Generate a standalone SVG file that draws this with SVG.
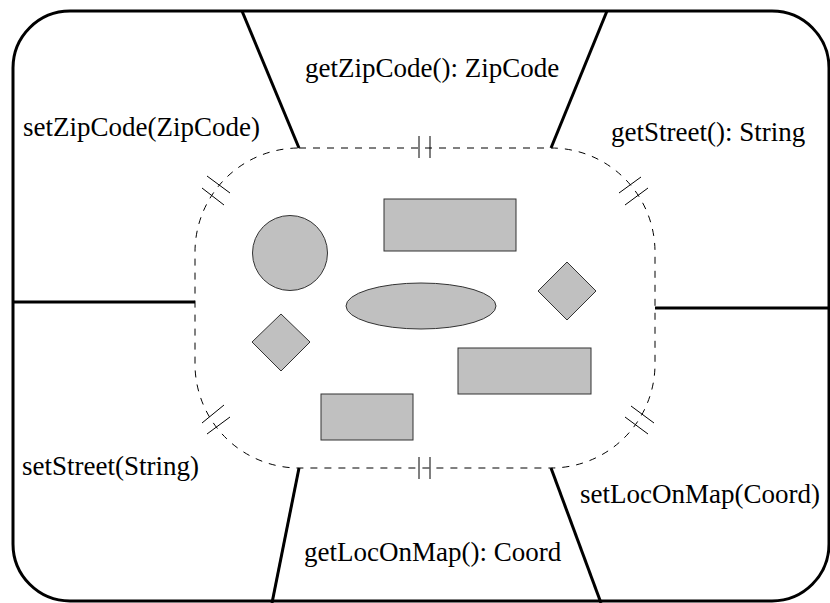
<svg xmlns="http://www.w3.org/2000/svg" width="830" height="603" viewBox="0 0 830 603">
  <style>
    .frame { fill: none; stroke: #000; stroke-width: 3; }
    .divider { fill: none; stroke: #000; stroke-width: 3; }
    .boundary { fill: none; stroke: #000; stroke-width: 1; stroke-dasharray: 7 7; }
    .tick { fill: none; stroke: #000; stroke-width: 1; }
    .part { fill: #c0c0c0; stroke: #333; stroke-width: 1; }
    .op { font-family: "Liberation Serif", "Times New Roman", serif; font-size: 27px; fill: #000; }
  </style>
  <rect width="830" height="603" fill="#fff"/>

  <!-- outer object shell -->
  <g id="shell">
    <rect class="frame" x="13" y="11" width="816" height="590" rx="57" ry="57"/>
  </g>

  <!-- sector dividers between the operations -->
  <g id="connectors">
    <line class="divider" x1="242" y1="11" x2="299" y2="148"/>
    <line class="divider" x1="607" y1="11" x2="551" y2="148"/>
    <line class="divider" x1="13" y1="302" x2="195" y2="302"/>
    <line class="divider" x1="655" y1="308" x2="829" y2="308"/>
    <line class="divider" x1="299" y1="468" x2="272" y2="603"/>
    <line class="divider" x1="551" y1="468" x2="601" y2="603"/>
  </g>

  <!-- encapsulation boundary with its crossing marks -->
  <g id="boundary">
    <rect class="boundary" x="195" y="148" width="460" height="320" rx="104" ry="104"/>
    <line class="tick" x1="419" y1="136" x2="419" y2="158"/>
    <line class="tick" x1="430" y1="136" x2="430" y2="158"/>
    <line class="tick" x1="419" y1="457" x2="419" y2="479"/>
    <line class="tick" x1="430" y1="457" x2="430" y2="479"/>
    <line class="tick" x1="207" y1="176" x2="230" y2="193"/>
    <line class="tick" x1="202" y1="188" x2="224" y2="205"/>
    <line class="tick" x1="619" y1="193" x2="641" y2="177"/>
    <line class="tick" x1="625" y1="205" x2="648" y2="188"/>
    <line class="tick" x1="202" y1="423" x2="224" y2="405"/>
    <line class="tick" x1="207" y1="434" x2="230" y2="417"/>
    <line class="tick" x1="631" y1="406" x2="654" y2="423"/>
    <line class="tick" x1="625" y1="417" x2="648" y2="434"/>
  </g>

  <!-- hidden internal data -->
  <g id="data-circle"><circle class="part" cx="290" cy="253" r="37.5"/></g>
  <g id="data-rect-top"><rect class="part" x="384" y="199" width="132" height="52"/></g>
  <g id="data-ellipse"><ellipse class="part" cx="421" cy="306" rx="75" ry="23"/></g>
  <g id="data-diamond-right"><polygon class="part" points="567,262 596,291 567,320 538,291"/></g>
  <g id="data-diamond-left"><polygon class="part" points="281,314 310,342 281,371 252,342"/></g>
  <g id="data-rect-right"><rect class="part" x="458" y="348" width="133" height="46"/></g>
  <g id="data-rect-bottom"><rect class="part" x="321" y="394" width="92" height="46"/></g>

  <!-- public operations -->
  <g id="op-getZipCode"><text class="op" x="305" y="77">getZipCode(): ZipCode</text></g>
  <g id="op-setZipCode"><text class="op" x="23" y="136">setZipCode(ZipCode)</text></g>
  <g id="op-getStreet"><text class="op" x="611" y="141">getStreet(): String</text></g>
  <g id="op-setStreet"><text class="op" x="22" y="475">setStreet(String)</text></g>
  <g id="op-setLocOnMap"><text class="op" x="580" y="503">setLocOnMap(Coord)</text></g>
  <g id="op-getLocOnMap"><text class="op" x="304" y="561">getLocOnMap(): Coord</text></g>
</svg>
